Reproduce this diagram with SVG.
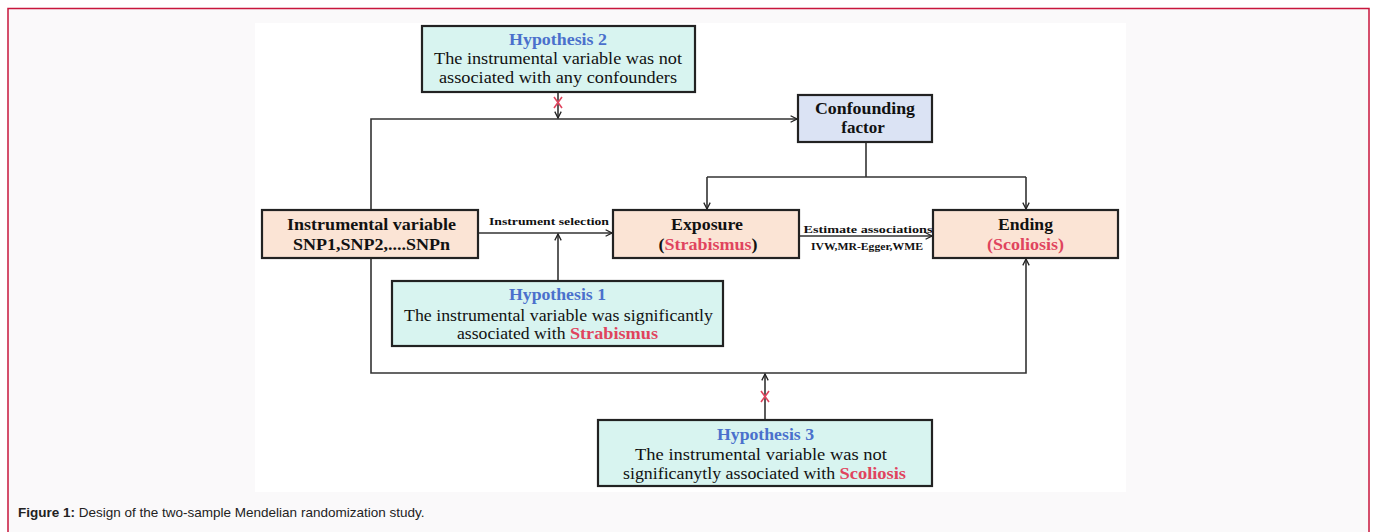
<svg xmlns="http://www.w3.org/2000/svg" width="1376" height="532" viewBox="0 0 1376 532">
<defs>
<marker id="ah" viewBox="0 0 10 10" refX="9" refY="5" markerWidth="8" markerHeight="8" markerUnits="userSpaceOnUse" orient="auto">
<path d="M1,1 L9,5 L1,9" fill="none" stroke="#222" stroke-width="1.6"/>
</marker>
<style>
.box{stroke:#222;stroke-width:2.2}
.hyp{fill:#d8f4f0}
.peach{fill:#fbe4d5}
.lav{fill:#dbe3f4}
.t{font-family:"Liberation Serif",serif;font-size:16.5px;fill:#111;text-anchor:middle}
.b{font-weight:bold;font-size:17px}
.h{fill:#4a70cc;font-weight:bold}
.r{fill:#e0445e}
.lab{font-family:"Liberation Serif",serif;font-size:10.5px;font-weight:bold;fill:#111;text-anchor:middle}
.ln{fill:none;stroke:#333;stroke-width:1.6}
.x{stroke:#e0445e;stroke-width:1.6}
</style>
</defs>
<rect x="0" y="0" width="1376" height="532" fill="#ffffff"/>
<rect x="8" y="8.5" width="1361" height="540" fill="#faf9fa" stroke="#c8163c" stroke-width="1.5"/>
<rect x="255" y="23" width="871" height="469" fill="#ffffff"/>

<g id="connectors">
<path class="ln" d="M371,210 V119 H797" marker-end="url(#ah)"/>
<path class="ln" d="M558,92 V118" marker-end="url(#ah)"/>
<path class="ln" d="M478,233 H612" marker-end="url(#ah)"/>
<path class="ln" d="M558,281 V234" marker-end="url(#ah)"/>
<path class="ln" d="M866,142 V177"/>
<path class="ln" d="M707,177 H1026"/>
<path class="ln" d="M707,177 V209" marker-end="url(#ah)"/>
<path class="ln" d="M1026,177 V209" marker-end="url(#ah)"/>
<path class="ln" d="M799,236 H932" marker-end="url(#ah)"/>
<path class="ln" d="M371,258 V373 H1026 V259" marker-end="url(#ah)"/>
<path class="ln" d="M765,420 V374" marker-end="url(#ah)"/>
<path class="x" d="M554,97 L562,108 M562,97 L554,108"/>
<path class="x" d="M761,391 L769,402 M769,391 L761,402"/>
<text class="lab" x="549" y="225" textLength="120" lengthAdjust="spacingAndGlyphs">Instrument selection</text>
<text class="lab" x="868" y="233" textLength="129" lengthAdjust="spacingAndGlyphs">Estimate associations</text>
<text class="lab" x="867" y="250" textLength="112" lengthAdjust="spacingAndGlyphs">IVW,MR-Egger,WME</text>
</g>

<g id="hyp2">
<rect class="box hyp" x="422" y="26" width="273" height="66"/>
<text class="t h" x="558" y="45" textLength="98" lengthAdjust="spacingAndGlyphs">Hypothesis 2</text>
<text class="t" x="558" y="64" textLength="248" lengthAdjust="spacingAndGlyphs">The instrumental variable was not</text>
<text class="t" x="558" y="83" textLength="238" lengthAdjust="spacingAndGlyphs">associated with any confounders</text>
</g>

<g id="confounding">
<rect class="box lav" x="798" y="95" width="134" height="47"/>
<text class="t b" x="865" y="114" textLength="100" lengthAdjust="spacingAndGlyphs">Confounding</text>
<text class="t b" x="863" y="133">factor</text>
</g>

<g id="iv">
<rect class="box peach" x="262" y="210" width="216" height="48"/>
<text class="t b" x="371.5" y="230" textLength="169" lengthAdjust="spacingAndGlyphs">Instrumental variable</text>
<text class="t b" x="371.5" y="250" textLength="157" lengthAdjust="spacingAndGlyphs">SNP1,SNP2,....SNPn</text>
</g>

<g id="exposure">
<rect class="box peach" x="613" y="210" width="186" height="48"/>
<text class="t b" x="707" y="230" textLength="72" lengthAdjust="spacingAndGlyphs">Exposure</text>
<text class="t b" x="708" y="250" textLength="99" lengthAdjust="spacingAndGlyphs">(<tspan class="r">Strabismus</tspan>)</text>
</g>

<g id="ending">
<rect class="box peach" x="933" y="210" width="185" height="48"/>
<text class="t b" x="1025.5" y="230" textLength="55" lengthAdjust="spacingAndGlyphs">Ending</text>
<text class="t b r" x="1025.5" y="250" textLength="77" lengthAdjust="spacingAndGlyphs">(Scoliosis)</text>
</g>

<g id="hyp1">
<rect class="box hyp" x="392" y="281" width="331" height="65"/>
<text class="t h" x="557.5" y="300" textLength="97" lengthAdjust="spacingAndGlyphs">Hypothesis 1</text>
<text class="t" x="558.5" y="321" textLength="309" lengthAdjust="spacingAndGlyphs">The instrumental variable was significantly</text>
<text class="t" x="557.5" y="339" textLength="201" lengthAdjust="spacingAndGlyphs">associated with <tspan class="b r">Strabismus</tspan></text>
</g>

<g id="hyp3">
<rect class="box hyp" x="598" y="420" width="334" height="66"/>
<text class="t h" x="765.5" y="440" textLength="97" lengthAdjust="spacingAndGlyphs">Hypothesis 3</text>
<text class="t" x="761" y="460" textLength="252" lengthAdjust="spacingAndGlyphs">The instrumental variable was not</text>
<text class="t" x="764.5" y="479" textLength="283" lengthAdjust="spacingAndGlyphs">significanytly associated with <tspan class="b r">Scoliosis</tspan></text>
</g>

<text x="18" y="517" font-family="Liberation Sans,Arial,sans-serif" font-size="13.5" fill="#222"><tspan font-weight="bold">Figure 1:</tspan> Design of the two-sample Mendelian randomization study.</text>
</svg>
